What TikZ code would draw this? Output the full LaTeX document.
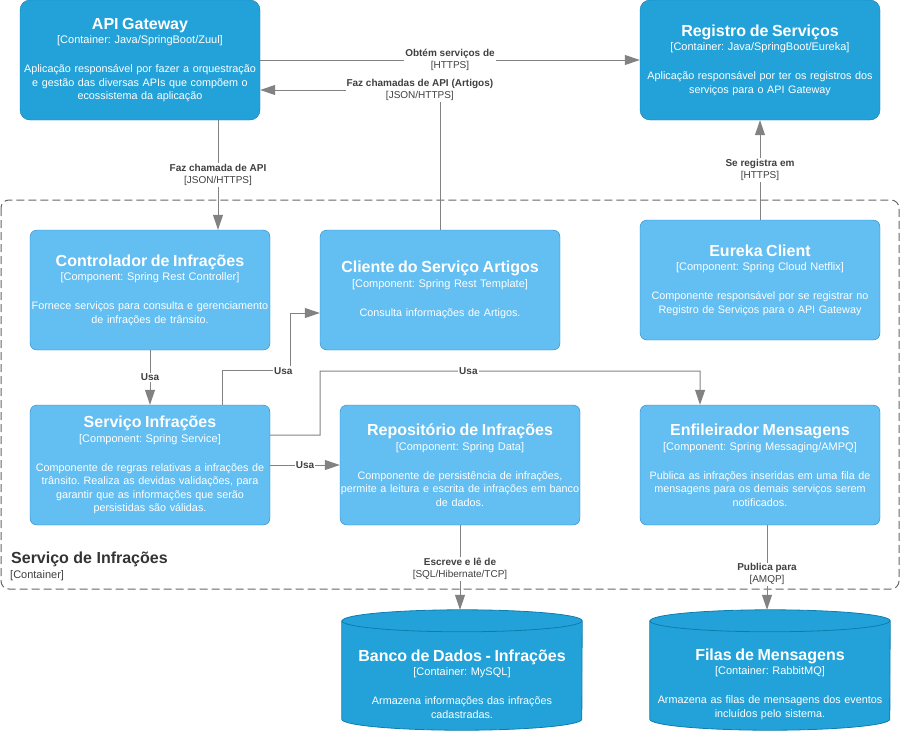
\documentclass[tikz,border=0pt]{standalone}
\usepackage{fontspec}
\setmainfont{Liberation Sans}
\usetikzlibrary{arrows.meta,positioning}
\frenchspacing

\definecolor{contfill}{HTML}{23A2D9}
\definecolor{contline}{HTML}{0E7DAD}
\definecolor{compfill}{HTML}{63BEF2}
\definecolor{compline}{HTML}{2086C9}
\definecolor{relgray}{HTML}{828282}
\definecolor{lbltext}{HTML}{404040}
\definecolor{bndgray}{HTML}{666666}

\begin{document}
\begin{tikzpicture}[x=1pt,y=-1pt,
    container/.style={draw=contline,fill=contfill,rounded corners=10pt,text=white,
      minimum width=240pt,minimum height=120pt,text width=260pt,inner xsep=-10pt,inner ysep=0pt,
      align=center,font=\fontsize{10.8}{13.5}\selectfont},
    component/.style={container,draw=compline,fill=compfill,rounded corners=7pt},
    dbbox/.style={minimum width=240pt,minimum height=120pt,inner sep=0pt},
    dbdraw/.style={draw=contline,fill=contfill,line width=0.8pt},
    dbtext/.style={text=white,text width=260pt,align=center,inner sep=0pt,
      font=\fontsize{10.8}{13.5}\selectfont},
    rel/.style={draw=relgray,line width=1pt,-{Triangle[length=15pt,width=10pt]}},
    lbl/.style={fill=white,text=lbltext,inner sep=1pt,align=center,
      font=\fontsize{10}{12}\selectfont},
    usa/.style={lbl,font=\fontsize{10}{12}\selectfont\bfseries}]
\newcommand{\boxtext}[3]{{\fontsize{16}{13.5}\selectfont\bfseries #1}\\[1pt]\relax{\fontsize{11}{13.5}\selectfont[#2]}\\[15.5pt]#3}
\newcommand{\rellbl}[2]{{\bfseries #1}\\\relax[#2]}
\useasboundingbox (0,0) rectangle (901,731);

% fronteira do container
\draw[bndgray,line width=1pt,dash pattern=on 8pt off 4pt,rounded corners=8pt] (1,200) rectangle (899,589);
\node[anchor=base west,inner sep=0pt,text=black!80,font=\fontsize{16}{18}\selectfont\bfseries] (bndname) at (11,563) {Serviço de Infrações};
\node[anchor=base west,inner sep=0pt,text=black!75,font=\fontsize{11}{13}\selectfont] (bndtype) at (10,578) {[Container]};

\node[container] (gw) at (140,60) {\boxtext{API Gateway}{Container: Java/SpringBoot/Zuul}{Aplicação responsável por fazer a orquestração\\e gestão das diversas APIs que compõem o\\ecossistema da aplicação}};
\node[container] (reg) at (760,60) {\boxtext{Registro de Serviços}{Container: Java/SpringBoot/Eureka}{Aplicação responsável por ter os registros dos\\serviços para o API Gateway}};
\node[component] (ctrl) at (150,290) {\boxtext{Controlador de Infrações}{Component: Spring Rest Controller}{Fornece serviços para consulta e gerenciamento\\de infrações de trânsito.}};
\node[component] (cli) at (440,290) {\boxtext{Cliente do Serviço Artigos}{Component: Spring Rest Template}{Consulta informações de Artigos.}};
\node[component] (eur) at (760,280) {\boxtext{Eureka Client}{Component: Spring Cloud Netflix}{Componente responsável por se registrar no\\Registro de Serviços para o API Gateway}};
\node[component] (serv) at (150,465) {\boxtext{Serviço Infrações}{Component: Spring Service}{Componente de regras relativas a infrações de\\trânsito. Realiza as devidas validações, para\\garantir que as informações que serão\\persistidas são válidas.}};
\node[component] (repo) at (460,465) {\boxtext{Repositório de Infrações}{Component: Spring Data}{Componente de persistência de infrações,\\permite a leitura e escrita de infrações em banco\\de dados.}};
\node[component] (enf) at (760,465) {\boxtext{Enfileirador Mensagens}{Component: Spring Messaging/AMPQ}{Publica as infrações inseridas em uma fila de\\mensagens para os demais serviços serem\\notificados.}};

\node[dbbox] (db) at (462,670) {};
\node[dbbox] (fil) at (770,670) {};
\foreach \dbn in {db,fil}{
  \draw[dbdraw] ([yshift=-11pt]\dbn.north west) -- ([yshift=11pt]\dbn.south west)
    arc[start angle=180,end angle=0,x radius=120,y radius=11] -- ([yshift=-11pt]\dbn.north east)
    arc[start angle=0,end angle=-180,x radius=120,y radius=11] -- cycle;
  \draw[dbdraw,fill=none] ([yshift=-11pt]\dbn.north west) arc[start angle=180,end angle=0,x radius=120,y radius=11];
}
\node[dbtext] (dbt) at ([yshift=-14pt]db.center) {\boxtext{Banco de Dados - Infrações}{Container: MySQL}{Armazena informações das infrações\\cadastradas.}};
\node[dbtext] (filt) at ([yshift=-14pt]fil.center) {\boxtext{Filas de Mensagens}{Container: RabbitMQ}{Armazena as filas de mensagens dos eventos\\incluídos pelo sistema.}};

\draw[rel] (gw.east) -- node[lbl]{\rellbl{Obtém serviços de}{HTTPS}} (reg.west);
\draw[rel] (cli.north) |- node[lbl,pos=0.556]{\rellbl{Faz chamadas de API (Artigos)}{JSON/HTTPS}} ([yshift=-30pt]gw.east);
\draw[rel] ([xshift=78pt]gw.south) -- node[lbl]{\rellbl{Faz chamada de API}{JSON/HTTPS}} ([xshift=68pt]ctrl.north);
\draw[rel] (eur.north) -- node[lbl]{\rellbl{Se registra em}{HTTPS}} (reg.south);
\draw[rel] (ctrl.south) -- node[usa]{Usa} (serv.north);
\draw[rel] ([xshift=72pt]serv.north) -- ++(0,-34) -- node[usa,pos=0.9]{Usa} ++(68,0) |- ([yshift=-23pt]cli.west);
\draw[rel] ([yshift=30pt]serv.east) -| ++(50,-64) -- node[usa,pos=0.39]{Usa} ++(380,0) -- ([xshift=-60pt]enf.north);
\draw[rel] (serv.east) -- node[usa]{Usa} (repo.west);
\draw[rel] (repo.south) -- node[lbl,pos=0.52]{\rellbl{Escreve e lê de}{SQL/Hibernate/TCP}} (repo.south |- db.north);
\coordinate (pubtop) at ([xshift=7pt]enf.south);
\draw[rel] (pubtop) -- node[lbl,pos=0.58]{\rellbl{Publica para}{AMQP}} (pubtop |- fil.north);
\end{tikzpicture}
\end{document}
